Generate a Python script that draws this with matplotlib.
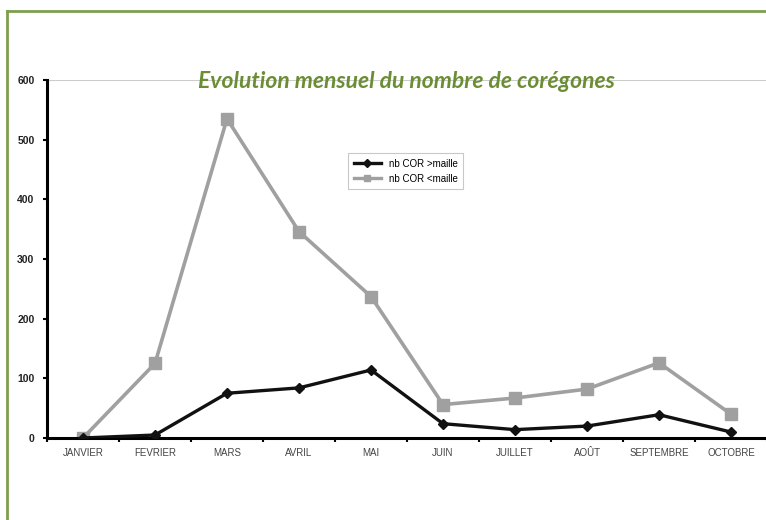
import matplotlib
matplotlib.use('Agg')
import matplotlib.pyplot as plt
from matplotlib.lines import Line2D

months = ['JANVIER', 'FEVRIER', 'MARS', 'AVRIL', 'MAI', 'JUIN',
          'JUILLET', 'AOÛT', 'SEPTEMBRE', 'OCTOBRE']
cor_sup = [0, 5, 75, 84, 114, 24, 14, 20, 39, 10]
cor_inf = [0, 125, 535, 346, 237, 56, 67, 82, 126, 40]
y_ticks = [0, 100, 200, 300, 400, 500, 600]

plt.rcParams['font.family'] = ['Liberation Sans', 'DejaVu Sans']

fig = plt.figure(figsize=(7.66, 5.2), dpi=100)
ax = fig.add_axes([47 / 766, 1 - 438 / 520, 720 / 766, 358 / 520])

x = list(range(len(months)))
ax.plot(x, cor_inf, color='#a0a0a0', lw=2.6, marker='s', ms=8,
        label='nb COR <maille', zorder=2)
ax.plot(x, cor_sup, color='#111111', lw=2.4, marker='D', ms=5.5,
        label='nb COR >maille', zorder=3)

ax.set_xlim(-0.5, len(months) - 0.5)
ax.set_ylim(0, 600)
ax.set_yticks(y_ticks)
ax.set_yticklabels([str(v) for v in y_ticks], fontsize=7.5, fontweight='bold',
                   color='#222222')
ax.set_xticks(x)
ax.set_xticklabels(months, fontsize=7, color='#444444')
ax.set_xticks([i - 0.5 for i in range(len(months) + 1)], minor=True)
ax.tick_params(axis='x', which='major', length=0, pad=7)
ax.tick_params(axis='x', which='minor', length=3, width=1.5, direction='out')
ax.tick_params(axis='y', length=3, width=1.5, direction='out', pad=6)

for side in ['top', 'right']:
    ax.spines[side].set_visible(False)
ax.spines['left'].set_linewidth(2.2)
ax.spines['bottom'].set_linewidth(2.2)
ax.axhline(600, color='#cccccc', lw=1.5, zorder=1)

handles = [
    Line2D([], [], color='#111111', lw=2.4, marker='D', ms=4),
    Line2D([], [], color='#a0a0a0', lw=2.4, marker='s', ms=4.5),
]
leg = ax.legend(handles, ['nb COR >maille', 'nb COR <maille'],
                loc='upper left', bbox_to_anchor=(296 / 720, 1 - 68 / 358),
                fontsize=7, frameon=True, fancybox=False,
                handlelength=2.8, borderpad=0.6, labelspacing=0.5)
leg.get_frame().set_edgecolor('#bbbbbb')
leg.get_frame().set_linewidth(0.8)

fig.text(406 / 766, 1 - 81 / 520, 'Evolution mensuel du nombre de corégones',
         ha='center', va='center', fontsize=16.5, fontweight='bold',
         fontstyle='italic', color='#6b8e35', family=['Lato', 'DejaVu Sans'])

# green frame on left and top
fig.add_artist(Line2D([7 / 766, 7 / 766], [0, 1 - 11 / 520],
                      transform=fig.transFigure, color='#7f9f4f', lw=2))
fig.add_artist(Line2D([7 / 766, 1], [1 - 11 / 520, 1 - 11 / 520],
                      transform=fig.transFigure, color='#7f9f4f', lw=2))

fig.savefig('out.png', dpi=100)
